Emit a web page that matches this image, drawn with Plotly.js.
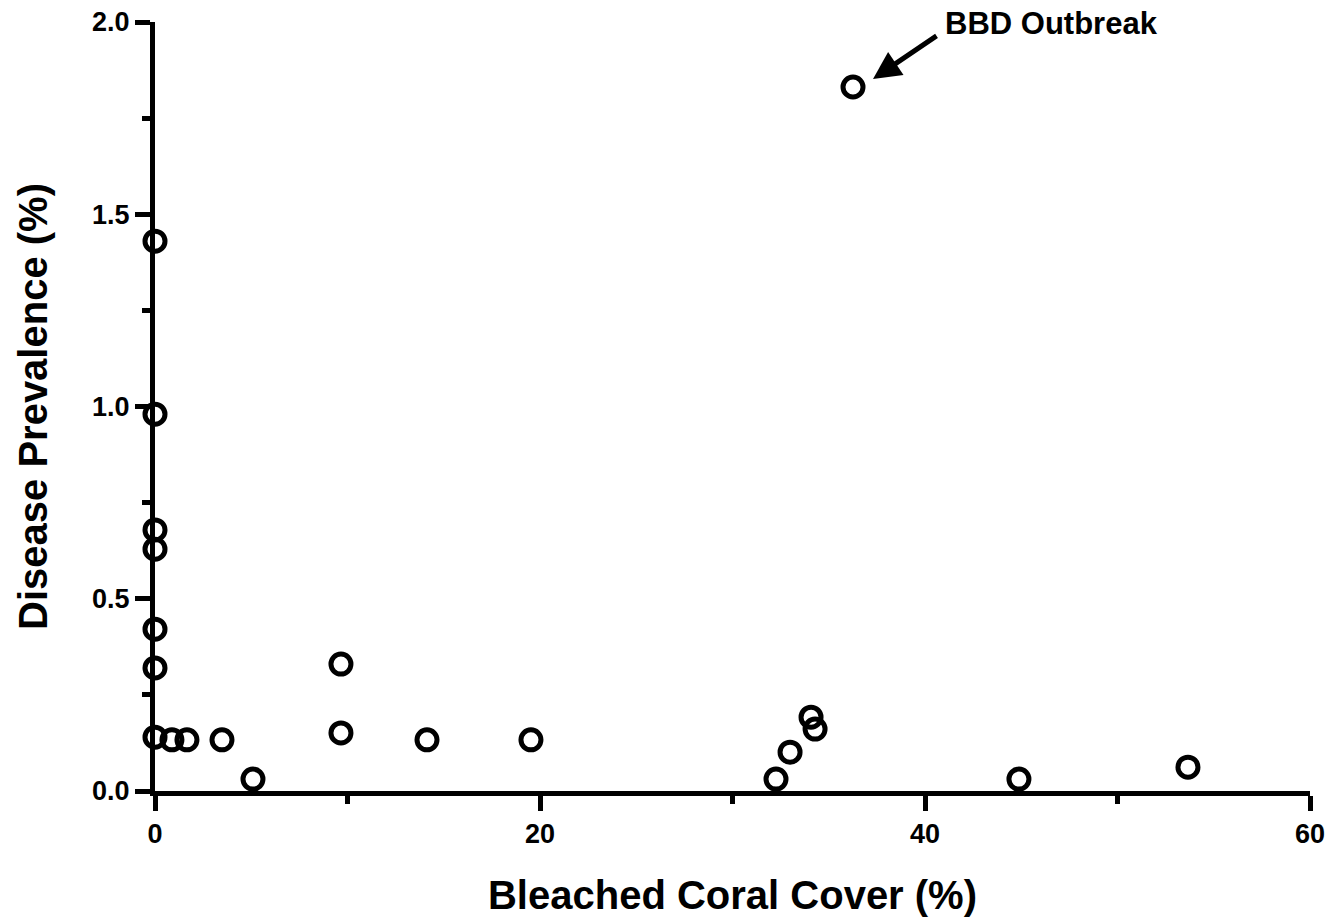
<!DOCTYPE html>
<html>
<head>
<meta charset="utf-8">
<script src="https://cdn.plot.ly/plotly-3.0.1.min.js"></script>
<style>html,body{margin:0;padding:0;background:#fff}#chart{width:1340px;height:919px}</style>
</head>
<body>
<div id="chart"></div>
<script>
const bleached = [36.26, 0, 0, 0, 0, 0, 0, 0, 0.88, 1.66, 3.48, 5.09, 9.66, 9.66, 14.13, 19.53, 32.26, 32.99, 34.08, 34.29, 44.88, 53.66];
const prevalence = [1.831, 1.43, 0.98, 0.679, 0.629, 0.421, 0.32, 0.14, 0.133, 0.133, 0.133, 0.031, 0.33, 0.151, 0.133, 0.133, 0.031, 0.101, 0.192, 0.161, 0.031, 0.062];
const xTickVals = [0, 20, 40, 60];
const yTickVals = [0, 0.5, 1.0, 1.5, 2.0];
const yTickText = ['0.0', '0.5', '1.0', '1.5', '2.0'];
const annotationText = 'BBD Outbreak';
const arrowHeadX = 37.3, arrowHeadY = 1.852;
const labelX = 40.94, labelY = 1.995;

const fontFam = 'Liberation Sans, Arial, sans-serif';
const trace = {
  x: bleached, y: prevalence, type: 'scatter', mode: 'markers',
  marker: {symbol: 'circle-open', size: 20, color: '#000', line: {width: 5, color: '#000'}},
  cliponaxis: false, hoverinfo: 'x+y'
};
const layout = {
  width: 1340, height: 919,
  margin: {l: 155, r: 30, t: 22, b: 128},
  paper_bgcolor: '#fff', plot_bgcolor: '#fff',
  showlegend: false,
  xaxis: {
    range: [0, 60], showgrid: false, zeroline: false,
    showline: true, linewidth: 5, linecolor: '#000',
    ticks: 'outside', ticklen: 15, tickwidth: 5, tickcolor: '#000',
    tickvals: xTickVals, ticktext: xTickVals.map(String),
    tickfont: {family: fontFam, size: 27, color: '#000', weight: 'bold'},
    minor: {ticks: 'outside', ticklen: 8, tickwidth: 5, tickcolor: '#000', dtick: 10, tick0: 0, showgrid: false},
    title: {text: '<b>Bleached Coral Cover (%)</b>', font: {family: fontFam, size: 40, color: '#000'}, standoff: 34}
  },
  yaxis: {
    range: [0, 2], showgrid: false, zeroline: false,
    showline: true, linewidth: 5, linecolor: '#000',
    ticks: 'outside', ticklen: 15, tickwidth: 5, tickcolor: '#000',
    tickvals: yTickVals, ticktext: yTickText,
    tickfont: {family: fontFam, size: 27, color: '#000', weight: 'bold'},
    minor: {ticks: 'outside', ticklen: 8, tickwidth: 5, tickcolor: '#000', dtick: 0.25, tick0: 0, showgrid: false},
    title: {text: '<b>Disease Prevalence (%)</b>', font: {family: fontFam, size: 40, color: '#000'}, standoff: 34}
  },
  annotations: [
    {x: arrowHeadX, y: arrowHeadY, xref: 'x', yref: 'y', text: '', showarrow: true,
     arrowhead: 2, arrowsize: 1.1, arrowwidth: 5, arrowcolor: '#000', ax: 65, ay: -44, axref: 'pixel', ayref: 'pixel'},
    {x: labelX, y: labelY, xref: 'x', yref: 'y', text: '<b>' + annotationText + '</b>', showarrow: false,
     font: {family: fontFam, size: 31, color: '#000'}, xanchor: 'left', yanchor: 'middle'}
  ]
};
Plotly.newPlot('chart', [trace], layout, {displayModeBar: false, staticPlot: true});
</script>
</body>
</html>
